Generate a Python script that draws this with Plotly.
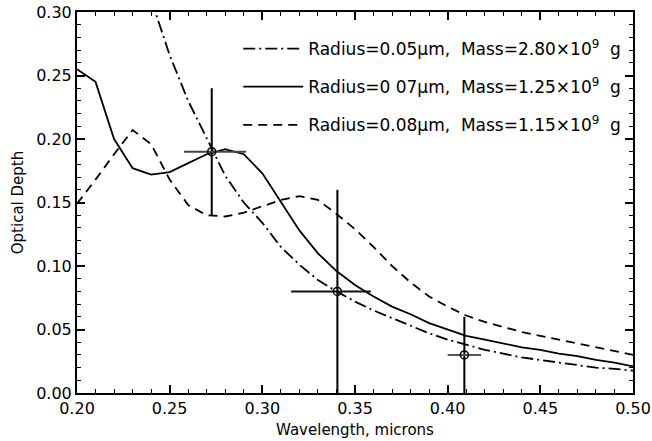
import plotly.graph_objects as go

wavelength = [0.20, 0.21, 0.22, 0.23, 0.24, 0.25, 0.26, 0.27, 0.28, 0.29, 0.30,
              0.31, 0.32, 0.33, 0.34, 0.35, 0.36, 0.37, 0.38, 0.39, 0.40,
              0.41, 0.42, 0.43, 0.44, 0.45, 0.46, 0.47, 0.48, 0.49, 0.50]

tau_r005 = [0.58, 0.49, 0.42, 0.36, 0.31, 0.266, 0.230, 0.200, 0.171, 0.150, 0.134,
            0.115, 0.101, 0.089, 0.080, 0.072, 0.065, 0.059, 0.053, 0.047, 0.042,
            0.038, 0.034, 0.031, 0.028, 0.026, 0.024, 0.022, 0.020, 0.019, 0.0176]

tau_r007 = [0.255, 0.245, 0.200, 0.177, 0.172, 0.174, 0.181, 0.188, 0.192, 0.188, 0.173,
            0.151, 0.128, 0.110, 0.096, 0.085, 0.076, 0.068, 0.062, 0.055, 0.050,
            0.045, 0.042, 0.039, 0.036, 0.034, 0.031, 0.029, 0.026, 0.024, 0.021]

tau_r008 = [0.149, 0.168, 0.188, 0.207, 0.196, 0.168, 0.148, 0.140, 0.139, 0.142, 0.147,
            0.152, 0.155, 0.152, 0.141, 0.129, 0.115, 0.100, 0.087, 0.076, 0.068,
            0.061, 0.056, 0.052, 0.048, 0.045, 0.042, 0.039, 0.036, 0.033, 0.030]

series_names = ["Radius=0.05\u03bcm,\u00a0 Mass=2.80\u00d710<sup>9</sup>\u00a0 g",
                "Radius=0 07\u03bcm,\u00a0 Mass=1.25\u00d710<sup>9</sup>\u00a0 g",
                "Radius=0.08\u03bcm,\u00a0 Mass=1.15\u00d710<sup>9</sup>\u00a0 g"]

obs_x = [0.2727, 0.3405, 0.409]
obs_y = [0.19, 0.08, 0.03]
obs_yerr = [0.05, 0.08, 0.03]
obs_xerr_plus = [0.0185, 0.018, 0.009]
obs_xerr_minus = [0.015, 0.025, 0.009]
obs_xerr_color = ["#444444", "#111111", "#555555"]

fig = go.Figure()

dashes = ["12px,4px,2px,4px", "solid", "9px,6px"]
for name, ys, d in zip(series_names, [tau_r005, tau_r007, tau_r008], dashes):
    fig.add_trace(go.Scatter(
        x=wavelength, y=ys, mode="lines", name=name, legendgroup=name,
        line=dict(color="black", width=1.8, dash=d),
    ))

for i in range(len(obs_x)):
    fig.add_trace(go.Scatter(
        x=[obs_x[i]], y=[obs_y[i]], mode="markers", showlegend=False,
        marker=dict(symbol="circle-open", size=8, color="black", line=dict(width=1.5, color="black")),
        error_y=dict(type="data", array=[obs_yerr[i]], width=0, thickness=2, color="black"),
        error_x=dict(type="data", symmetric=False, array=[obs_xerr_plus[i]],
                     arrayminus=[obs_xerr_minus[i]], width=0, thickness=2,
                     color=obs_xerr_color[i]),
    ))

font_family = "DejaVu Sans"
axis_common = dict(
    showline=True, linewidth=2, linecolor="black", mirror="ticks",
    ticks="inside", ticklen=8, tickwidth=1.5, tickcolor="black",
    showgrid=False, zeroline=False, automargin=False,
    tickfont=dict(family=font_family, size=16, color="black"),
    minor=dict(ticks="inside", ticklen=4, tickwidth=1.2, tickcolor="black", dtick=0.01),
)

fig.update_xaxes(range=[0.2, 0.5], dtick=0.05, tickformat=".2f",
                 title=dict(text="Wavelength, microns", font=dict(family=font_family, size=15, color="black"),
                            standoff=7),
                 **axis_common)
fig.update_yaxes(range=[0.0, 0.3], dtick=0.05, tickformat=".2f",
                 title=dict(text="Optical Depth", font=dict(family=font_family, size=15, color="black"),
                            standoff=9),
                 **axis_common)

fig.update_layout(
    width=652, height=441,
    margin=dict(l=77, r=19, t=12, b=48),
    paper_bgcolor="white", plot_bgcolor="white",
    showlegend=True,
    legend=dict(x=0.29, y=0.95, xanchor="left", yanchor="top",
                bgcolor="rgba(0,0,0,0)", borderwidth=0,
                font=dict(family=font_family, size=17, color="black"),
                itemwidth=60, tracegroupgap=13),
)

fig.write_html("out.html", config={"displayModeBar": False},
               post_script="document.body.style.margin='0';document.body.style.padding='0';")
